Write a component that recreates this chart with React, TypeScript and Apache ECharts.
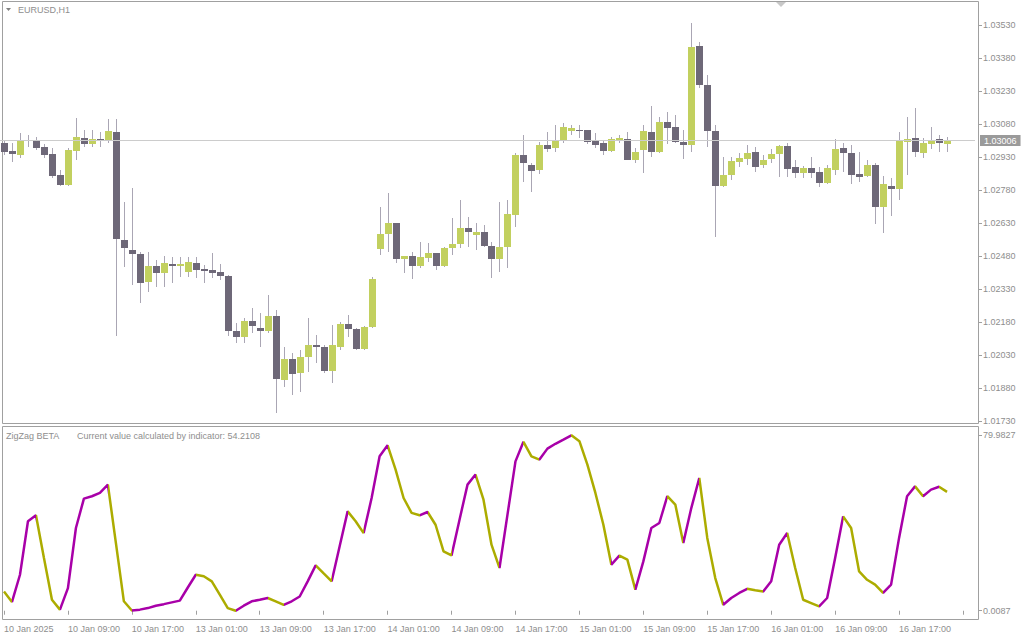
import React, { useEffect, useRef } from "react";
import * as echarts from "echarts";

const FONT = '"Liberation Sans", Arial, sans-serif';
const TEXT = "#8e8e8e";
const BORDER = "#a0a0a0";
const BULL = "#c2d05f";
const BEAR = "#6e6878";
const WICK = "#aaa6b4";
const UP_LINE = "#a800a8";
const DOWN_LINE = "#acac00";

const symbolLabel = "EURUSD,H1";
const indicatorName = "ZigZag BETA";
const indicatorNote = "Current value calculated by indicator: 54.2108";

const dayNames = ["10 Jan", "13 Jan", "14 Jan", "15 Jan", "16 Jan"];
const yearLabel = "2025";
const firstBarHour = 1;
const padBars = 3;

const priceMin = 1.0173;
const priceStep = 0.0015;
const priceMax = 1.03636;
const indicatorMin = -3.77;
const indicatorMax = 83.76;
const indicatorTicks = [0.0087, 79.9827];

const opens = [
  1.02995, 1.02959, 1.0294, 1.03009, 1.03009, 1.02977, 1.02945, 1.0285, 1.02804, 1.02959,
  1.03018, 1.0299, 1.03013, 1.03004, 1.03045, 1.02554, 1.02509, 1.0249, 1.02363, 1.02436,
  1.02404, 1.02445, 1.02436, 1.02409, 1.0245, 1.02422, 1.02418, 1.02409, 1.0239, 1.0214,
  1.02113, 1.02186, 1.02154, 1.0214, 1.02209, 1.01918, 1.02013, 1.0195, 1.02022, 1.02077,
  1.02068, 1.01959, 1.02068, 1.02172, 1.0215, 1.02059, 1.02159, 1.02513, 1.02581, 1.02631,
  1.02468, 1.02481, 1.02436, 1.02472, 1.02495, 1.02436, 1.02518, 1.02536, 1.02609, 1.02577,
  1.0259, 1.02527, 1.02468, 1.02522, 1.02668, 1.0294, 1.02895, 1.02872, 1.02986, 1.02972,
  1.03009, 1.0305, 1.03054, 1.03054, 1.03004, 1.02995, 1.02959, 1.03004, 1.03013, 1.02918,
  1.02963, 1.03045, 1.02954, 1.0309, 1.03068, 1.03, 1.02986, 1.03436, 1.03259, 1.0305,
  1.028, 1.0285, 1.02909, 1.02922, 1.02954, 1.02895, 1.02922, 1.02945, 1.02981, 1.02886,
  1.02859, 1.02881, 1.02863, 1.02813, 1.02872, 1.02972, 1.0295, 1.02854, 1.02845, 1.02895,
  1.02704, 1.028, 1.02786, 1.03, 1.03018, 1.0295, 1.0299, 1.03013, 1.0299,
];
const closes = [
  1.02954, 1.02945, 1.03009, 1.03004, 1.02972, 1.0294, 1.02845, 1.02804, 1.02963, 1.03022,
  1.0299, 1.03013, 1.03004, 1.0305, 1.02559, 1.02518, 1.0249, 1.02359, 1.02436, 1.02404,
  1.0245, 1.02436, 1.02445, 1.02454, 1.02418, 1.02413, 1.02404, 1.0239, 1.0214, 1.02113,
  1.02186, 1.02163, 1.0214, 1.02209, 1.01922, 1.02013, 1.01945, 1.02022, 1.02077, 1.02068,
  1.01959, 1.02077, 1.02172, 1.0215, 1.02059, 1.02159, 1.02377, 1.02581, 1.02631, 1.02468,
  1.02481, 1.02436, 1.02477, 1.02495, 1.02436, 1.02518, 1.02536, 1.02609, 1.0259, 1.0259,
  1.02527, 1.02468, 1.02522, 1.02672, 1.0294, 1.02904, 1.02868, 1.02986, 1.02968, 1.03009,
  1.03068, 1.03063, 1.0305, 1.03, 1.02986, 1.02959, 1.03013, 1.03018, 1.02918, 1.02954,
  1.0305, 1.02954, 1.0309, 1.03063, 1.03, 1.02986, 1.03431, 1.03259, 1.0305, 1.028,
  1.0285, 1.02913, 1.02927, 1.0295, 1.02886, 1.02918, 1.02945, 1.02981, 1.02877, 1.02859,
  1.02881, 1.02859, 1.02813, 1.02881, 1.02968, 1.0295, 1.0285, 1.0284, 1.02895, 1.02704,
  1.02809, 1.02786, 1.03004, 1.03013, 1.02954, 1.02995, 1.03009, 1.02995, 1.03006,
];
const lows = [
  1.0294, 1.02909, 1.02927, 1.02977, 1.02963, 1.02927, 1.02836, 1.028, 1.028, 1.02918,
  1.02977, 1.02977, 1.02977, 1.02995, 1.02118, 1.02431, 1.0235, 1.02268, 1.02318, 1.0234,
  1.0234, 1.02359, 1.02386, 1.02386, 1.02381, 1.02359, 1.02381, 1.02372, 1.02118, 1.02086,
  1.02086, 1.02131, 1.02068, 1.02131, 1.01768, 1.01886, 1.0185, 1.01863, 1.01954, 1.01995,
  1.0195, 1.01904, 1.02054, 1.02113, 1.02054, 1.02054, 1.02154, 1.02486, 1.025, 1.0245,
  1.02404, 1.02377, 1.02427, 1.02454, 1.02418, 1.02431, 1.02486, 1.02518, 1.02522, 1.02509,
  1.02522, 1.02381, 1.02409, 1.02427, 1.02613, 1.02818, 1.02772, 1.02854, 1.02954, 1.02954,
  1.02995, 1.03031, 1.03018, 1.0299, 1.02972, 1.0294, 1.02954, 1.02995, 1.02918, 1.02904,
  1.02859, 1.02931, 1.0295, 1.0299, 1.02995, 1.02922, 1.02954, 1.03245, 1.02977, 1.02568,
  1.02795, 1.02827, 1.02886, 1.02895, 1.02863, 1.02881, 1.02904, 1.0284, 1.0284, 1.02836,
  1.02836, 1.02836, 1.02795, 1.02809, 1.0285, 1.02863, 1.02809, 1.02818, 1.0284, 1.02627,
  1.02586, 1.02663, 1.02736, 1.0285, 1.02931, 1.02927, 1.02968, 1.02954, 1.02954,
];
const highs = [
  1.03009, 1.02995, 1.0304, 1.03031, 1.03022, 1.0299, 1.02972, 1.02872, 1.02972, 1.03109,
  1.03054, 1.03054, 1.03045, 1.03104, 1.03104, 1.02727, 1.0279, 1.025, 1.025, 1.02463,
  1.02481, 1.02477, 1.02477, 1.02477, 1.02477, 1.0244, 1.02495, 1.02445, 1.02395, 1.02177,
  1.022, 1.02245, 1.02222, 1.02304, 1.02236, 1.02068, 1.0204, 1.02054, 1.022, 1.02122,
  1.02077, 1.02168, 1.02181, 1.02213, 1.02154, 1.02163, 1.02386, 1.02704, 1.02768, 1.02631,
  1.02481, 1.025, 1.02545, 1.0254, 1.02495, 1.02522, 1.02654, 1.02736, 1.02659, 1.02631,
  1.02622, 1.02545, 1.02727, 1.02736, 1.0295, 1.03031, 1.02904, 1.03, 1.03045, 1.03077,
  1.03086, 1.03077, 1.03077, 1.03054, 1.0304, 1.03009, 1.03022, 1.03031, 1.03045, 1.02972,
  1.03077, 1.03163, 1.03113, 1.03136, 1.03122, 1.03054, 1.0354, 1.03454, 1.03304, 1.03077,
  1.02931, 1.02931, 1.0295, 1.02986, 1.02977, 1.0294, 1.02968, 1.02986, 1.02995, 1.02918,
  1.0289, 1.02931, 1.02886, 1.02895, 1.03013, 1.02995, 1.02986, 1.02954, 1.02918, 1.02904,
  1.02845, 1.02836, 1.03045, 1.03113, 1.03154, 1.03018, 1.03068, 1.03031, 1.03022,
];
const zigzag = [
  8.8, 4.0, 16.4, 40.8, 43.5, 24.0, 5.0, 0.5, 10.3, 37.7,
  51.1, 52.2, 53.7, 57.5, 30.9, 4.3, 0.1, 0.5, 1.2, 2.3,
  3.0, 3.8, 4.6, 10.6, 16.4, 15.7, 13.4, 7.3, 1.2, 0.0087,
  2.3, 4.3, 5.0, 5.8, 4.3, 2.7, 4.3, 6.5, 13.4, 20.7,
  17.0, 13.4, 29.4, 45.3, 40.8, 35.4, 51.4, 70.4, 75.4, 64.3,
  51.4, 44.6, 43.5, 45.0, 39.2, 27.1, 25.2, 41.5, 57.5, 62.1,
  50.6, 30.1, 19.5, 43.8, 68.1, 77.0, 70.4, 68.9, 73.9, 76.1,
  78.0, 79.9827, 77.3, 66.6, 53.7, 39.2, 21.0, 25.1, 23.3, 9.6,
  22.5, 37.7, 40.0, 52.2, 48.4, 30.9, 46.8, 60.5, 33.2, 14.9,
  2.7, 5.8, 8.1, 10.0, 9.3, 8.8, 13.4, 30.1, 35.4, 19.5,
  5.0, 3.5, 2.0, 5.8, 24.0, 43.0, 37.7, 17.9, 14.1, 11.9,
  8.1, 11.9, 33.2, 52.2, 56.7, 52.2, 55.2, 56.5, 54.2108,
];

function buildCategories(): string[] {
  const cats: string[] = [];
  dayNames.forEach((d, di) => {
    for (let h = di === 0 ? firstBarHour : 0; h < 24; h++) {
      cats.push(cats.length === 0 ? `${d} ${yearLabel}` : `${d} ${String(h).padStart(2, "0")}:00`);
    }
  });
  for (let k = 0; k < padBars; k++) cats.push("");
  return cats;
}

function buildPieces() {
  const runs: { a: number; b: number; up: boolean }[] = [];
  for (let i = 1; i < zigzag.length; i++) {
    const up = zigzag[i] > zigzag[i - 1];
    const last = runs[runs.length - 1];
    if (last && last.up === up) last.b = i;
    else runs.push({ a: i - 1, b: i, up });
  }
  return runs.map((r, k) => {
    const color = r.up ? UP_LINE : DOWN_LINE;
    if (k === 0) return { lte: r.b, color };
    if (k === runs.length - 1) return { gt: r.a, color };
    return { gt: r.a, lte: r.b, color };
  });
}

export default function App() {
  const ref = useRef<HTMLDivElement>(null);
  useEffect(() => {
    if (!ref.current) return;
    const chart = echarts.init(ref.current, null, { renderer: "svg" });
    const categories = buildCategories();
    const candleData = opens.map((o, i) => [i, o, closes[i], lows[i], highs[i]]);
    const lastClose = closes[closes.length - 1];
    const labelStyle = { color: TEXT, fontSize: 9, fontFamily: FONT };

    const option: any = {
      animation: false,
      backgroundColor: "#ffffff",
      grid: [
        { left: -1, top: 2, width: 976, height: 419.3 },
        { left: -1, top: 427, width: 976, height: 192 },
      ],
      xAxis: [
        { type: "category", gridIndex: 0, data: categories, boundaryGap: true, show: false },
        {
          type: "category",
          gridIndex: 1,
          data: categories,
          boundaryGap: true,
          axisLine: { show: false },
          axisTick: { show: true, interval: 7, alignWithLabel: true, length: 4, lineStyle: { color: BORDER } },
          axisLabel: { ...labelStyle, interval: 7, align: "left", margin: 5 },
          splitLine: { show: false },
        },
      ],
      yAxis: [
        {
          type: "value",
          gridIndex: 0,
          position: "right",
          offset: 3,
          min: priceMin,
          max: priceMax,
          interval: priceStep,
          axisLine: { show: false },
          axisTick: { show: true, length: 4, lineStyle: { color: BORDER } },
          axisLabel: { ...labelStyle, margin: 5, showMaxLabel: false, formatter: (v: number) => v.toFixed(5) },
          splitLine: { show: false },
        },
        {
          type: "value",
          gridIndex: 1,
          position: "right",
          offset: 3,
          min: indicatorMin,
          max: indicatorMax,
          axisLine: { show: false },
          axisTick: { show: true, length: 4, customValues: indicatorTicks, lineStyle: { color: BORDER } },
          axisLabel: { ...labelStyle, margin: 5, customValues: indicatorTicks, formatter: (v: number) => v.toFixed(4) },
          splitLine: { show: false },
        },
      ],
      visualMap: {
        type: "piecewise",
        show: false,
        dimension: 0,
        seriesIndex: 1,
        pieces: buildPieces(),
      },
      series: [
        {
          type: "custom",
          xAxisIndex: 0,
          yAxisIndex: 0,
          data: candleData,
          encode: { x: 0, y: [1, 2, 3, 4] },
          renderItem: (params: any, api: any) => {
            const idx = api.value(0);
            const o = api.value(1);
            const c = api.value(2);
            const l = api.value(3);
            const h = api.value(4);
            const pO = api.coord([idx, o]);
            const pC = api.coord([idx, c]);
            const pL = api.coord([idx, l]);
            const pH = api.coord([idx, h]);
            const cx = Math.round(pO[0]);
            const top = Math.round(Math.min(pO[1], pC[1]));
            const bot = Math.round(Math.max(pO[1], pC[1]));
            return {
              type: "group",
              children: [
                {
                  type: "line",
                  shape: { x1: cx + 0.5, y1: Math.round(pH[1]), x2: cx + 0.5, y2: Math.round(pL[1]) },
                  style: { stroke: WICK, lineWidth: 1 },
                },
                {
                  type: "rect",
                  shape: { x: cx - 3, y: top, width: 7, height: Math.max(1, bot - top) },
                  style: { fill: c >= o ? BULL : BEAR },
                },
              ],
            };
          },
          markLine: {
            silent: true,
            symbol: ["none", "none"],
            precision: 5,
            data: [{ yAxis: lastClose }],
            lineStyle: { color: "#cccccc", width: 1, type: "solid" },
            label: {
              show: true,
              position: "end",
              distance: 5,
              formatter: () => lastClose.toFixed(5),
              backgroundColor: "#9a9a9a",
              color: "#ffffff",
              padding: [1, 4, 1, 4],
              fontSize: 9,
              fontFamily: FONT,
            },
          },
        },
        {
          type: "line",
          xAxisIndex: 1,
          yAxisIndex: 1,
          data: zigzag,
          showSymbol: false,
          symbol: "none",
          smooth: false,
          lineStyle: { width: 2.5 },
        },
      ],
      graphic: [
        { type: "rect", shape: { x: 2.5, y: 1.5, width: 976, height: 422 }, style: { fill: "none", stroke: BORDER, lineWidth: 1 }, silent: true },
        { type: "rect", shape: { x: 2.5, y: 426.5, width: 976, height: 193 }, style: { fill: "none", stroke: BORDER, lineWidth: 1 }, silent: true },
        { type: "polygon", shape: { points: [[6, 8], [11, 8], [8.5, 11]] }, style: { fill: "#808080" }, silent: true },
        { type: "polygon", shape: { points: [[776, 2], [786, 2], [781, 7]] }, style: { fill: "#c8c8c8" }, silent: true },
        { type: "text", x: 18, y: 10, style: { text: symbolLabel, fill: TEXT, fontSize: 9, fontFamily: FONT, verticalAlign: "middle" }, silent: true },
        { type: "text", x: 6, y: 436, style: { text: indicatorName, fill: TEXT, fontSize: 9, fontFamily: FONT, verticalAlign: "middle" }, silent: true },
        { type: "text", x: 77, y: 436, style: { text: indicatorNote, fill: TEXT, fontSize: 9, fontFamily: FONT, verticalAlign: "middle" }, silent: true },
      ],
    };
    chart.setOption(option);
    return () => chart.dispose();
  }, []);
  return (
    <div
      ref={ref}
      style={{ position: "fixed", left: 0, top: 0, width: 1024, height: 640, background: "#ffffff" }}
    />
  );
}
